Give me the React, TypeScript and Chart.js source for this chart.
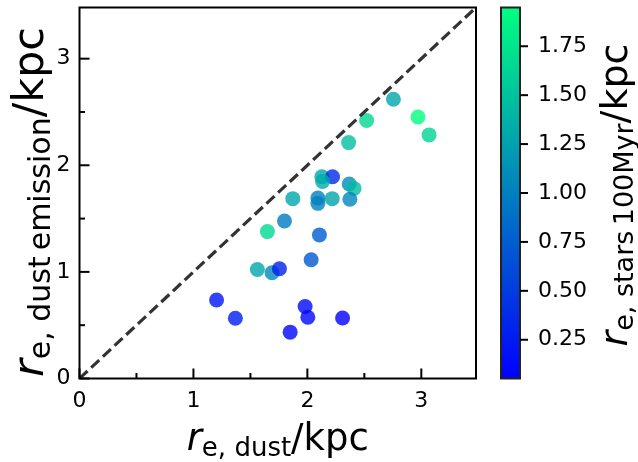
import { useEffect, useRef } from "react";
import { Chart, registerables } from "chart.js";

Chart.register(...registerables);

// Half-light radii (kpc)
const dustRadius = [
  2.755, 2.971, 3.068, 2.52, 2.362, 2.127, 2.221, 2.133, 2.367, 2.41,
  1.872, 2.092, 2.218, 2.373, 2.092, 1.799, 1.649, 2.106, 2.033, 1.561,
  1.69, 1.755, 1.203, 1.368, 1.98, 2.004, 1.849, 2.309,
];
const emissionRadius = [
  2.619, 2.453, 2.285, 2.42, 2.213, 1.893, 1.893, 1.849, 1.824, 1.783,
  1.687, 1.693, 1.687, 1.681, 1.643, 1.478, 1.378, 1.347, 1.114, 1.023,
  0.992, 1.03, 0.737, 0.565, 0.675, 0.575, 0.435, 0.568,
];
const starRadius = [
  1.3, 1.948, 1.63, 1.65, 1.47, 1.3, 0.37, 1.32, 1.1, 1.45,
  1.3, 1.0, 1.28, 1.05, 1.0, 0.97, 1.66, 0.74, 0.7, 1.3,
  1.06, 0.3, 0.2, 0.26, 0.12, 0.1, 0.08, 0.052,
];

const axisTicks = [0, 1, 2, 3];
const axisMinorTicks = [0.5, 1.5, 2.5];
const colorbarTicks = [0.25, 0.5, 0.75, 1.0, 1.25, 1.5, 1.75];

const AXIS_MAX = 3.48;
const CB_MIN = 0.052;
const CB_MAX = 1.948;

const FONT = "'DejaVu Sans', sans-serif";

// matplotlib "winter": blue -> spring green
function winter(v: number, alpha = 1): string {
  const t = Math.min(1, Math.max(0, (v - CB_MIN) / (CB_MAX - CB_MIN)));
  const g = Math.round(255 * t);
  const b = Math.round(255 * (1 - 0.5 * t));
  return `rgba(0,${g},${b},${alpha})`;
}

type Part = { text: string; font: string; dy: number };

function drawParts(
  ctx: CanvasRenderingContext2D,
  parts: Part[],
  cx: number,
  cy: number,
  rotated: boolean
) {
  ctx.save();
  ctx.translate(cx, cy);
  if (rotated) ctx.rotate(-Math.PI / 2);
  ctx.fillStyle = "#000";
  ctx.textBaseline = "alphabetic";
  ctx.textAlign = "left";
  const widths = parts.map((p) => {
    ctx.font = p.font;
    return ctx.measureText(p.text).width;
  });
  let x = -widths.reduce((a, b) => a + b, 0) / 2;
  parts.forEach((p, i) => {
    ctx.font = p.font;
    ctx.fillText(p.text, x, p.dy);
    x += widths[i];
  });
  ctx.restore();
}

function labelParts(sub: string, size: number): Part[] {
  const subSize = Math.round(size * 0.7);
  return [
    { text: "r", font: `italic ${size}px ${FONT}`, dy: 0 },
    { text: sub, font: `${subSize}px ${FONT}`, dy: size * 0.17 },
    { text: "/kpc", font: `${size}px ${FONT}`, dy: 0 },
  ];
}

const decorations = {
  id: "decorations",
  afterDraw(chart: any) {
    const ctx: CanvasRenderingContext2D = chart.ctx;
    const { left, right, top, bottom } = chart.chartArea;
    const xs = chart.scales.x;
    const ys = chart.scales.y;
    const cb = chart.scales.cb;

    ctx.save();
    ctx.strokeStyle = "#000";
    ctx.lineWidth = 2;
    ctx.lineCap = "butt";

    // inward ticks on bottom and left
    const tick = (len: number, values: number[]) => {
      values.forEach((v) => {
        const px = xs.getPixelForValue(v);
        ctx.beginPath();
        ctx.moveTo(px, bottom);
        ctx.lineTo(px, bottom - len);
        ctx.stroke();
        const py = ys.getPixelForValue(v);
        ctx.beginPath();
        ctx.moveTo(left, py);
        ctx.lineTo(left + len, py);
        ctx.stroke();
      });
    };
    tick(10, axisTicks);
    tick(5.5, axisMinorTicks);

    // frame
    ctx.strokeRect(left, top, right - left, bottom - top);

    // colorbar
    const cbLeft = right + 25;
    const cbRight = right + 44;
    const cbTop = cb.getPixelForValue(CB_MAX);
    const cbBottom = cb.getPixelForValue(CB_MIN);
    const grad = ctx.createLinearGradient(0, cbBottom, 0, cbTop);
    for (let i = 0; i <= 20; i++) {
      const v = CB_MIN + ((CB_MAX - CB_MIN) * i) / 20;
      grad.addColorStop(i / 20, winter(v));
    }
    ctx.fillStyle = grad;
    ctx.fillRect(cbLeft, cbTop, cbRight - cbLeft, cbBottom - cbTop);
    ctx.strokeStyle = "#222";
    ctx.strokeRect(cbLeft, cbTop, cbRight - cbLeft, cbBottom - cbTop);
    ctx.strokeStyle = "#000";
    colorbarTicks.forEach((v) => {
      const py = cb.getPixelForValue(v);
      ctx.beginPath();
      ctx.moveTo(cbRight, py);
      ctx.lineTo(cbRight + 8, py);
      ctx.stroke();
    });
    ctx.restore();

    // axis titles
    drawParts(ctx, labelParts("e, dust", 37), (left + right) / 2, 450, false);
    drawParts(ctx, labelParts("e, dust\u2009emission", 43), 43, (top + bottom) / 2 + 9, true);
    drawParts(ctx, labelParts("e, stars\u2009100Myr", 38), 627, (top + bottom) / 2 + 2, true);
  },
};

const tickFont = { family: FONT, size: 22 };

function fixVertical(width: number) {
  return (s: any) => {
    s.width = width;
    s.paddingTop = 0;
    s.paddingBottom = 0;
  };
}

export default function App() {
  const ref = useRef<HTMLCanvasElement | null>(null);

  useEffect(() => {
    if (!ref.current) return;
    const points = dustRadius.map((x, i) => ({ x, y: emissionRadius[i] }));
    const chart = new Chart(ref.current, {
      type: "scatter",
      data: {
        datasets: [
          {
            type: "line",
            data: [
              { x: 0, y: 0 },
              { x: AXIS_MAX, y: AXIS_MAX },
            ],
            borderColor: "rgba(51,51,51,1)",
            borderWidth: 3.2,
            borderDash: [11, 5],
            pointRadius: 0,
            fill: false,
          } as any,
          {
            data: points,
            pointRadius: 7.5,
            pointHoverRadius: 7.5,
            pointBorderWidth: 0,
            pointBackgroundColor: starRadius.map((c) => winter(c, 0.8)),
            pointBorderColor: "rgba(0,0,0,0)",
          },
        ],
      },
      plugins: [decorations],
      options: {
        animation: false,
        responsive: false,
        devicePixelRatio: 1,
        events: [],
        layout: { padding: { top: 6, left: 0, right: 0, bottom: 0 } },
        plugins: {
          legend: { display: false },
          tooltip: { enabled: false },
        },
        scales: {
          x: {
            type: "linear",
            min: 0,
            max: AXIS_MAX,
            grid: { display: false, drawTicks: false },
            border: { display: false },
            afterBuildTicks: (s: any) => {
              s.ticks = axisTicks.map((value) => ({ value }));
            },
            afterFit: (s: any) => {
              s.height = 83.5;
              s.paddingLeft = 0;
              s.paddingRight = 0;
            },
            ticks: {
              padding: 10,
              color: "#000",
              font: tickFont,
              maxRotation: 0,
            },
          },
          y: {
            type: "linear",
            min: 0,
            max: AXIS_MAX,
            grid: { display: false, drawTicks: false },
            border: { display: false },
            afterBuildTicks: (s: any) => {
              s.ticks = axisTicks.map((value) => ({ value }));
            },
            afterFit: fixVertical(79.5),
            ticks: {
              padding: 9,
              color: "#000",
              font: tickFont,
            },
          },
          cb: {
            type: "linear",
            position: "right",
            min: CB_MIN,
            max: CB_MAX,
            grid: { display: false, drawTicks: false },
            border: { display: false },
            afterBuildTicks: (s: any) => {
              s.ticks = colorbarTicks.map((value) => ({ value }));
            },
            afterFit: fixVertical(162),
            ticks: {
              padding: 62,
              color: "#000",
              font: tickFont,
              callback: (v: any) => Number(v).toFixed(2),
            },
          },
        },
      },
    });
    return () => chart.destroy();
  }, []);

  return (
    <div style={{ position: "absolute", left: 0, top: 0, width: 638, height: 462, background: "#fff" }}>
      <canvas ref={ref} width={638} height={462} style={{ display: "block" }} />
    </div>
  );
}
